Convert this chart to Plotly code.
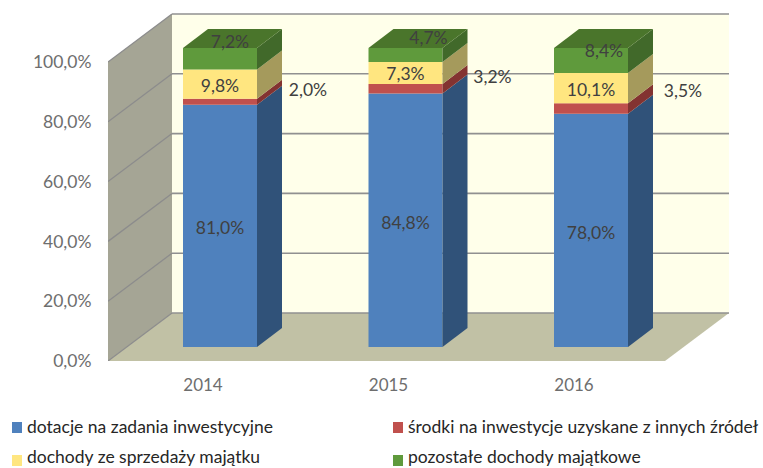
import plotly.graph_objects as go

# ---- data ----
years = ["2014", "2015", "2016"]
series_names = ["dotacje na zadania inwestycyjne",
                "środki na inwestycje uzyskane z innych źródeł",
                "dochody ze sprzedaży majątku",
                "pozostałe dochody majątkowe"]
dotacje = [81.0, 84.8, 78.0]
srodki = [2.0, 3.2, 3.5]
sprzedaz = [9.8, 7.3, 10.1]
pozostale = [7.2, 4.7, 8.4]
y_ticks = [0, 20, 40, 60, 80, 100]
y_tick_labels = ["0,0%", "20,0%", "40,0%", "60,0%", "80,0%", "100,0%"]

# ---- styles ----
front = ["#4F81BD", "#C0504D", "#FFE680", "#5F9A3C"]
side = ["#305279", "#833331", "#A59A5C", "#41692A"]
top_colour = "#4A752B"
FONT = "Lato"
W, H = 763, 468
L, R, T, B = 108, 30, 10, 107
cat_px = 185.5          # pixels per category
val_px = 2.99           # pixels per percentage point
x_lo = -95 / cat_px     # axis range, front plane
x_hi = x_lo + (W - L - R) / cat_px
y_hi = (H - B - T) / val_px
wall_dx, wall_dy = 64 / cat_px, 48 / val_px   # full chart depth
bar_off_x, bar_off_y = 17 / cat_px, 14 / val_px  # bars sit in mid depth
bar_dx, bar_dy = 25 / cat_px, 19 / val_px        # bar depth
bar_w = 74 / cat_px
wall_w = (729 - 108) / cat_px - wall_dx  # floor width (front edge)

def px(x): return (x - L) / (W - L - R)
def py(y): return (H - B - y) / (H - B - T)

def poly(points):
    return "M" + " L".join(f"{a},{b}" for a, b in points) + " Z"

shapes = []
# walls and floor
shapes.append(dict(type="path", layer="below", xref="x", yref="y", line_width=0, fillcolor="#FFFFEA",
                   path=poly([(x_lo + wall_dx, 0 + wall_dy), (x_lo + wall_dx + wall_w, wall_dy),
                              (x_lo + wall_dx + wall_w, 100 + wall_dy), (x_lo + wall_dx, 100 + wall_dy)])))
shapes.append(dict(type="path", layer="below", xref="x", yref="y", line_width=0, fillcolor="#A5A595",
                   path=poly([(x_lo, 0), (x_lo, 100), (x_lo + wall_dx, 100 + wall_dy), (x_lo + wall_dx, wall_dy)])))
shapes.append(dict(type="path", layer="below", xref="x", yref="y", line_width=0, fillcolor="#C1C1A5",
                   path=poly([(x_lo, 0), (x_lo + wall_dx, wall_dy), (x_lo + wall_dx + wall_w, wall_dy), (x_lo + wall_w, 0)])))
for v in y_ticks:
    shapes.append(dict(type="line", layer="below", xref="x", yref="y", line=dict(color="#8C8C8C", width=1.3),
                       x0=x_lo, y0=v, x1=x_lo + wall_dx, y1=v + wall_dy))
    shapes.append(dict(type="line", layer="below", xref="x", yref="y", line=dict(color="#909090", width=1.6),
                       x0=x_lo + wall_dx, y0=v + wall_dy, x1=x_lo + wall_dx + wall_w, y1=v + wall_dy))

fig = go.Figure()
stacks = [dotacje, srodki, sprzedaz, pozostale]
bases = [[0, 0, 0] for _ in stacks]
for s in range(1, 4):
    bases[s] = [bases[s - 1][i] + stacks[s - 1][i] for i in range(3)]

cat_x = list(range(len(years)))
for s, vals in enumerate(stacks):
    fig.add_trace(go.Bar(x=[c + bar_off_x for c in cat_x], y=vals,
                         base=[b + bar_off_y for b in bases[s]], width=bar_w,
                         name=series_names[s], marker=dict(color=front[s], line_width=0),
                         showlegend=False, hoverinfo="skip"))

# side faces and top faces, from the same values
for s, vals in enumerate(stacks):
    for i in cat_x:
        xr = i + bar_off_x + bar_w / 2
        y0 = bases[s][i] + bar_off_y
        y1 = y0 + vals[i]
        fig.add_trace(go.Scatter(x=[xr, xr + bar_dx, xr + bar_dx, xr, xr],
                                 y=[y0, y0 + bar_dy, y1 + bar_dy, y1, y0],
                                 mode="lines", fill="toself", fillcolor=side[s], line_width=0,
                                 showlegend=False, hoverinfo="skip"))
for i in cat_x:
    xl = i + bar_off_x - bar_w / 2
    xr = i + bar_off_x + bar_w / 2
    yt = bases[3][i] + pozostale[i] + bar_off_y
    fig.add_trace(go.Scatter(x=[xl, xr, xr + bar_dx, xl + bar_dx, xl],
                             y=[yt, yt, yt + bar_dy, yt + bar_dy, yt],
                             mode="lines", fill="toself", fillcolor=top_colour, line_width=0,
                             showlegend=False, hoverinfo="skip"))

# data labels (pixel nudges per series and year, as placed in the original)
def fmt(v): return f"{v:.1f}".replace(".", ",") + "%"
nudge_x = [[0, 0, 0], [88, 87, 92], [0, 0, 0], [10, 23, 13]]
nudge_y = [[-4, -4, -4], [10, 10.5, 15.5], [-3, -3, -3], [15, 15, 8]]
for s, vals in enumerate(stacks):
    fig.add_trace(go.Scatter(
        x=[i + bar_off_x + nudge_x[s][i] / cat_px for i in cat_x],
        y=[bases[s][i] + vals[i] / 2 + bar_off_y + nudge_y[s][i] / val_px for i in cat_x],
        mode="text", text=[fmt(v) for v in vals], textposition="middle center",
        textfont=dict(family=FONT, size=17.5, color="#404040"),
        showlegend=False, hoverinfo="skip"))

# legend, laid out as in the original
legend_pos = [(12, 427), (393, 427), (12, 460), (393, 460)]
legend_text_y = [426, 426, 457, 457]
legend_text_x = [25, 406, 25, 406]
annotations = []
for s, (lx, ly) in enumerate(legend_pos):
    shapes.append(dict(type="rect", xref="paper", yref="paper", line_width=0, fillcolor=front[s],
                       x0=px(lx), x1=px(lx + 10), y0=py(ly - 5), y1=py(ly + 6)))
    annotations.append(dict(xref="paper", yref="paper", x=px(legend_text_x[s]), y=py(legend_text_y[s]), xanchor="left",
                            yanchor="middle", showarrow=False, text=series_names[s],
                            font=dict(family=FONT, size=17.5, color="#262626")))

fig.update_layout(
    width=W, height=H, autosize=False, margin=dict(l=L, r=R, t=T, b=B, pad=0),
    paper_bgcolor="white", plot_bgcolor="rgba(0,0,0,0)", barmode="overlay",
    showlegend=False, shapes=shapes, annotations=annotations,
    font=dict(family=FONT, size=17.5, color="#6E6E6E"),
    xaxis=dict(range=[x_lo, x_hi], tickmode="array", tickvals=cat_x, ticktext=years, showgrid=False,
               zeroline=False, showline=False, ticks="outside", ticklen=9, tickcolor="rgba(0,0,0,0)",
               tickfont=dict(family=FONT, size=17, color="#6E6E6E"), fixedrange=True),
    yaxis=dict(range=[0, y_hi], tickmode="array", tickvals=y_ticks, ticktext=y_tick_labels, showgrid=False,
               zeroline=False, showline=False, ticks="outside", ticklen=12, tickcolor="rgba(0,0,0,0)",
               tickfont=dict(family=FONT, size=17.5, color="#6E6E6E"), fixedrange=True),
)
fig.write_html("out.html", config=dict(displayModeBar=False),
               post_script="document.body.style.margin='0';document.body.style.overflow='hidden';")
